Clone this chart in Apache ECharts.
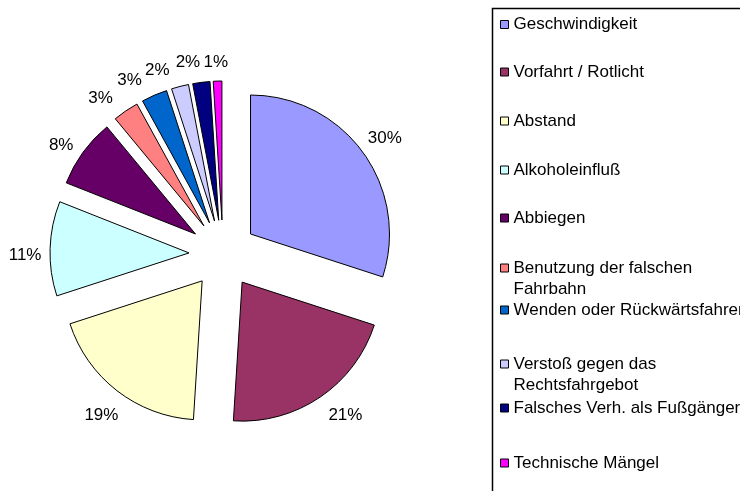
<!DOCTYPE html>
<html>
<head>
<meta charset="utf-8">
<script src="https://cdn.jsdelivr.net/npm/echarts@6/dist/echarts.min.js"></script>
<style>
  html, body { margin: 0; padding: 0; background: #ffffff; }
  #chart { width: 740px; height: 491px; }
</style>
</head>
<body>
<div id="chart"></div>
<script>
// Unfallursachen – Anteile in Prozent
const categories = [
  'Geschwindigkeit',
  'Vorfahrt / Rotlicht',
  'Abstand',
  'Alkoholeinfluß',
  'Abbiegen',
  'Benutzung der falschen\nFahrbahn',
  'Wenden oder Rückwärtsfahren',
  'Verstoß gegen das\nRechtsfahrgebot',
  'Falsches Verh. als Fußgänger',
  'Technische Mängel'
];
const shares = [30, 21, 19, 11, 8, 3, 3, 2, 2, 1];
const colors = ['#9999FF', '#993366', '#FFFFCC', '#CCFFFF', '#660066',
                '#FF8080', '#0066CC', '#CCCCFF', '#000080', '#FF00FF'];

// layout: vertical centre of each legend marker
const legendRowY = [24.5, 72, 121, 170, 218, 268, 310, 364, 408, 463];
// layout: small shifts of the percentage labels so the crowded ones fan out
const labelNudge = [[0, 2], [10, -4], [1, 3], [2, 8], [0, 9],
                    [-10, 10], [-14, 10], [-16, 10], [-10, 7], [-1, 8]];

const FONT = "'Liberation Sans', Arial, sans-serif";
const FONT_SIZE = 17;
const LINE_H = 21;
const PIE_CENTER = [223, 254];
const PIE_RADIUS = 139;
const EXPLODE = 34;
const LABEL_GAP = 27;

const pieData = categories.map((name, i) => ({
  name: name,
  value: shares[i],
  selected: true,
  itemStyle: { color: colors[i] }
}));

// one legend block per entry so every row sits at its own height;
// wrapped names get a blank first line so the marker lines up with their first line
const legends = categories.map((name, i) => {
  const twoLines = name.indexOf('\n') >= 0;
  return {
    data: [name],
    orient: 'vertical',
    left: 500,
    top: twoLines ? legendRowY[i] - 1.5 * LINE_H : legendRowY[i] - LINE_H / 2,
    padding: 0,
    icon: 'rect',
    itemWidth: 8,
    itemHeight: 8,
    selectedMode: false,
    formatter: twoLines ? (n) => ' \n' + n : '{name}',
    itemStyle: { borderColor: '#000', borderWidth: 1 },
    textStyle: {
      fontFamily: FONT,
      fontSize: FONT_SIZE,
      color: '#000',
      lineHeight: LINE_H
    }
  };
});

// label ring: mid radius sits LABEL_GAP outside the exploded slices
const ringMid = PIE_RADIUS + EXPLODE + LABEL_GAP - 3;

const chart = echarts.init(document.getElementById('chart'), null, { renderer: 'canvas' });

chart.setOption({
  animation: false,
  backgroundColor: '#ffffff',
  legend: legends,
  graphic: [{
    type: 'rect',
    shape: { x: 492.5, y: 8.5, width: 400, height: 600 },
    style: { fill: 'none', stroke: '#000', lineWidth: 1.5 },
    silent: true
  }],
  series: [
    {
      // exploded slices
      type: 'pie',
      center: PIE_CENTER,
      radius: PIE_RADIUS,
      startAngle: 90,
      clockwise: true,
      selectedMode: 'multiple',
      selectedOffset: EXPLODE,
      avoidLabelOverlap: false,
      label: { show: false },
      labelLine: { show: false },
      itemStyle: { borderColor: '#000', borderWidth: 1 },
      emphasis: { disabled: true },
      data: pieData
    },
    {
      // percentage labels
      type: 'pie',
      center: PIE_CENTER,
      radius: [ringMid - 3, ringMid + 3],
      startAngle: 90,
      clockwise: true,
      silent: true,
      avoidLabelOverlap: false,
      itemStyle: { color: 'rgba(0,0,0,0)', borderWidth: 0 },
      label: {
        show: true,
        position: 'inside',
        formatter: '{c}%',
        color: '#000',
        fontFamily: FONT,
        fontSize: FONT_SIZE,
        textBorderWidth: 0
      },
      labelLayout: (p) => ({
        dx: labelNudge[p.dataIndex][0],
        dy: labelNudge[p.dataIndex][1],
        hideOverlap: false,
        moveOverlap: null
      }),
      labelLine: { show: false },
      emphasis: { disabled: true },
      data: categories.map((name, i) => ({ name: name, value: shares[i] }))
    }
  ]
});
</script>
</body>
</html>
